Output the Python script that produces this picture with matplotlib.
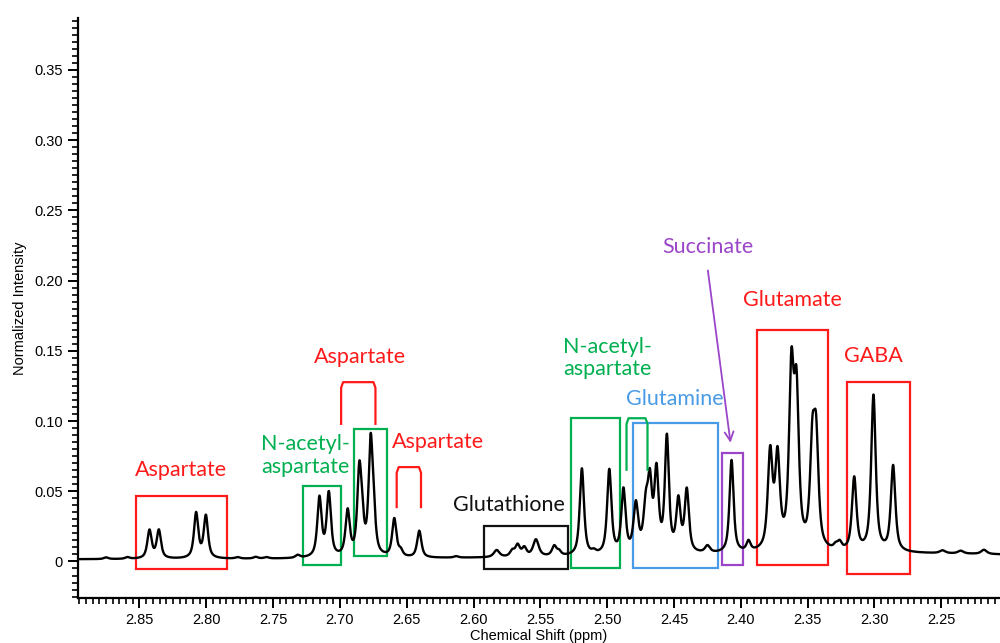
import numpy as np
import matplotlib.pyplot as plt
from matplotlib.patches import Rectangle
from matplotlib.ticker import MultipleLocator, FuncFormatter

# peak table: position (ppm), height, width (ppm)
peak_ppm = [2.875, 2.859, 2.8425, 2.8355, 2.8076, 2.8003, 2.7765, 2.763, 2.755, 2.7316,
            2.7153, 2.7083, 2.6942, 2.6855, 2.6835, 2.6770, 2.6748, 2.6593, 2.6545, 2.6406,
            2.613, 2.5827, 2.571, 2.567, 2.562, 2.5533, 2.5396, 2.536,
            2.5189, 2.510, 2.4984, 2.4878, 2.4785, 2.471, 2.468, 2.4631, 2.4553, 2.4467,
            2.4404, 2.4249, 2.4069, 2.3942,
            2.3780, 2.3725, 2.3621, 2.3583, 2.3464, 2.3436, 2.329, 2.326,
            2.3151, 2.3007, 2.2860, 2.249, 2.2354, 2.218, 2.30]
peak_height = [0.0012, 0.0012, 0.020, 0.020, 0.032, 0.030, 0.001, 0.0012, 0.001, 0.002,
               0.042, 0.045, 0.032, 0.056, 0.020, 0.077, 0.022, 0.027, 0.004, 0.019,
               0.001, 0.005, 0.004, 0.008, 0.006, 0.012, 0.007, 0.003,
               0.062, 0.002, 0.060, 0.045, 0.034, 0.031, 0.044, 0.056, 0.081, 0.036,
               0.044, 0.005, 0.066, 0.007,
               0.068, 0.064, 0.121, 0.104, 0.068, 0.072, 0.003, 0.005,
               0.052, 0.111, 0.061, 0.002, 0.002, 0.003, 0.0045]
peak_width = [0.004, 0.004, 0.0038, 0.0038, 0.0038, 0.0038, 0.004, 0.004, 0.004, 0.004,
              0.0038, 0.0038, 0.0038, 0.0036, 0.0036, 0.0036, 0.0036, 0.0038, 0.0036, 0.0038,
              0.004, 0.005, 0.004, 0.004, 0.004, 0.005, 0.004, 0.0036,
              0.0038, 0.0036, 0.0038, 0.0038, 0.0042, 0.0042, 0.0036, 0.0038, 0.0036, 0.0038,
              0.0038, 0.0045, 0.0036, 0.0036,
              0.0042, 0.0042, 0.0042, 0.0042, 0.0042, 0.0042, 0.0036, 0.0036,
              0.004, 0.004, 0.004, 0.005, 0.005, 0.005, 0.4]
baseline = 0.0012

# annotation boxes: (ppm left, ppm right, bottom, top, colour)
box_x0 = [2.8525, 2.7273, 2.6892, 2.5919, 2.527, 2.481, 2.4144, 2.3875, 2.3206]
box_x1 = [2.7844, 2.6991, 2.6647, 2.5296, 2.4904, 2.4167, 2.3982, 2.3344, 2.2735]
box_y0 = [-0.0057, -0.0024, 0.0036, -0.0052, -0.0045, -0.0045, -0.0024, -0.0024, -0.0088]
box_y1 = [0.0465, 0.054, 0.094, 0.0256, 0.102, 0.0985, 0.0774, 0.165, 0.1277]
box_col = ['red', 'green', 'green', 'black', 'green', 'blue', 'purple', 'red', 'red']

# brackets: (ppm left, ppm right, leg bottom, top, colour)
br_x0 = [2.6991, 2.6575, 2.4855]
br_x1 = [2.6734, 2.6393, 2.4698]
br_y0 = [0.098, 0.0387, 0.0653]
br_y1 = [0.1277, 0.0672, 0.102]
br_col = ['red', 'red', 'green']

labels = ['Aspartate', 'N-acetyl-\naspartate', 'Aspartate', 'Aspartate', 'Glutathione',
          'N-acetyl-\naspartate', 'Glutamine', 'Succinate', 'Glutamate', 'GABA']
label_x = [2.8186, 2.726, 2.6852, 2.6263, 2.5732, 2.4997, 2.4495, 2.4246, 2.3613, 2.3007]
label_y = [0.065, 0.0755, 0.1455, 0.085, 0.0399, 0.145, 0.1159, 0.2239, 0.1864, 0.146]
label_col = ['red', 'green', 'red', 'red', 'black', 'green', 'blue', 'purple', 'red', 'red']

colours = {'red': '#ff1a1a', 'green': '#00b050', 'blue': '#4a9be6',
           'purple': '#9b45c8', 'black': '#111111'}

# build the trace from the peak table (pseudo-Voigt lines, mostly Lorentzian)
ppm = np.linspace(2.90, 2.20, 6000)
spec = np.full_like(ppm, baseline)
eta = 0.75
for c, h, w in zip(peak_ppm, peak_height, peak_width):
    d = (ppm - c) / w
    spec += h * ((1 - eta) * np.exp(-4 * np.log(2) * d**2) + eta / (1 + 4 * d**2))

fig = plt.figure(figsize=(10, 6.43), dpi=100)
ax = fig.add_axes([0.078, 0.07, 0.922, 0.902])
ax.plot(ppm, spec, color='black', lw=1.7)

ax.set_xlim(2.896, 2.206)
ax.set_ylim(-0.026, 0.387)

for x0, x1, y0, y1, c in zip(box_x0, box_x1, box_y0, box_y1, box_col):
    ax.add_patch(Rectangle((x1, y0), x0 - x1, y1 - y0, fill=False,
                           ec=colours[c], lw=1.6))

for x0, x1, y0, y1, c in zip(br_x0, br_x1, br_y0, br_y1, br_col):
    dx, dy = 0.0015, 0.004
    ax.plot([x0, x0, x0 - dx, x1 + dx, x1, x1],
            [y0, y1 - dy, y1, y1, y1 - dy, y0],
            color=colours[c], lw=1.6, solid_joinstyle='round')

for t, x, y, c in zip(labels, label_x, label_y, label_col):
    ax.text(x, y, t, color=colours[c], fontsize=15.5, family='Lato',
            ha='center', va='center', linespacing=1.15)

ax.annotate('', xy=(2.4074, 0.0826), xytext=(2.4249, 0.2092),
            arrowprops=dict(arrowstyle='->', color=colours['purple'], lw=1.3,
                            mutation_scale=16))

for s in ['top', 'right']:
    ax.spines[s].set_visible(False)
for s in ['left', 'bottom']:
    ax.spines[s].set_linewidth(1.6)

ax.xaxis.set_major_locator(MultipleLocator(0.05))
ax.xaxis.set_minor_locator(MultipleLocator(0.005))
ax.yaxis.set_major_locator(MultipleLocator(0.05))
ax.yaxis.set_minor_locator(MultipleLocator(0.005))
ax.xaxis.set_major_formatter(FuncFormatter(lambda v, p: '%.2f' % v))
ax.yaxis.set_major_formatter(FuncFormatter(lambda v, p: '0' if abs(v) < 1e-9 else '%.2f' % v))
ax.tick_params(which='major', direction='out', length=7, width=1.4, labelsize=10.5, pad=4)
ax.tick_params(which='minor', direction='out', length=4, width=1.2)
for lab in ax.get_xticklabels() + ax.get_yticklabels():
    lab.set_family('Liberation Sans')

ax.set_xlabel('Chemical Shift (ppm)', fontsize=10.5, family='Liberation Sans', labelpad=1)
ax.set_ylabel('Normalized Intensity', fontsize=10.5, family='Liberation Sans', labelpad=5)

fig.savefig('out.png', dpi=100)
